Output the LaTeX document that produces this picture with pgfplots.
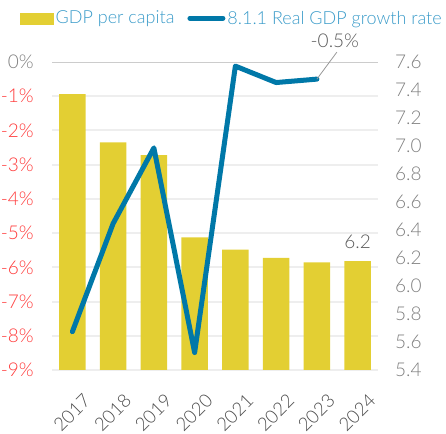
\documentclass[border=0pt]{standalone}
\usepackage{fontspec}
\setmainfont{Lato}[UprightFont={* Light}]
\usepackage{pgfplots}
\pgfplotsset{compat=1.18}

\definecolor{barc}{HTML}{E3CF33}
\definecolor{linec}{HTML}{0078A8}
\definecolor{legc}{HTML}{3A9BC9}
\definecolor{tickg}{HTML}{7F7F7F}
\definecolor{tickr}{HTML}{FF3B3B}
\definecolor{gridc}{HTML}{EEEEEE}

\newcommand\fz{\fontsize{19bp}{22bp}\selectfont}
\newcommand\fx{\fontsize{18.5bp}{20bp}\selectfont}
\newcommand\fl{\fontsize{18bp}{20bp}\selectfont}

\begin{document}
\begin{tikzpicture}
\pgfplotsset{
  base/.style={
    width=326bp, height=308bp, scale only axis,
    at={(0,0)}, anchor=south west,
    xmin=-0.5, xmax=7.5,
    major tick length=0pt,
    axis line style={draw=none},
  },
}

% grid, left axis, year labels
\begin{axis}[base,
    ymin=-9, ymax=0,
    xtick={0,...,7},
    xticklabels={2017,2018,2019,2020,2021,2022,2023,2024},
    xticklabel style={rotate=45, anchor=east, inner sep=0pt, yshift=-30bp, xshift=-9bp,
      font=\fx, text=black!70},
    ytick={-9,-8,-7,-6,-5,-4,-3,-2,-1},
    yticklabels={-9\%,-8\%,-7\%,-6\%,-5\%,-4\%,-3\%,-2\%,-1\%},
    yticklabel style={font=\fz, text=tickr, inner sep=0pt, xshift=-18bp},
    ymajorgrids, grid style={draw=gridc, line width=2bp},
    extra y ticks={0},
    extra y tick labels={0\%},
    extra y tick style={yticklabel style={text=tickg},
      grid style={draw=black!20, line width=1bp}},
  ]
\end{axis}

% GDP per capita bars, right axis
\begin{axis}[base,
    ymin=5.4, ymax=7.6,
    axis x line=none,
    axis y line*=right,
    ytick={5.4,5.6,5.8,6.0,6.2,6.4,6.6,6.8,7.0,7.2,7.4,7.6},
    yticklabels={5.4,5.6,5.8,6.0,6.2,6.4,6.6,6.8,7.0,7.2,7.4,7.6},
    yticklabel style={font=\fz, text=tickg, inner sep=0pt, xshift=17bp},
  ]
  \addplot[ybar, bar width=26.7bp, fill=barc, draw=none] coordinates {
    (0,7.37) (1,7.025) (2,6.934) (3,6.347)
    (4,6.26) (5,6.20) (6,6.168) (7,6.177)
  };
  \node[anchor=south, yshift=9bp, font=\fz, text=black!65] at (axis cs:7,6.177) {6.2};
  \node[rotate=90, font=\fontsize{14bp}{16bp}\selectfont, text=tickg]
    at ([xshift=60bp]rel axis cs:1,0.40) {USD'000s 2021 PPP};
\end{axis}

% real GDP growth line
\begin{axis}[base,
    ymin=-9, ymax=0,
    hide axis, clip=false,
    legend columns=2,
    legend style={at={(-0.098,1.173)}, anchor=north west, draw=none, fill=none,
      font=\fl, text=legc, inner sep=0pt,
      /tikz/every even column/.append style={column sep=11bp},
      nodes={inner sep=2bp}},
  ]
  \addlegendimage{legend image code/.code={\fill[barc] (0bp,-5.5bp) rectangle (33bp,5.5bp);}}
  \addlegendentry{GDP per capita}
  \addplot[linec, line width=5bp, line cap=round, line join=round,
    legend image code/.code={\draw[linec, line width=5bp, line cap=round] (2bp,0bp) -- (35bp,0bp);}]
    coordinates {
    (0,-7.88) (1,-4.72) (2,-2.51) (3,-8.49)
    (4,-0.12) (5,-0.60) (6,-0.50)
  };
  \addlegendentry{8.1.1 Real GDP growth rate}
  \draw[black!40, line width=0.8bp] (axis cs:6,-0.5) -- ++(20bp,27bp);
  \node[font=\fz, text=black!65] at ([xshift=18bp, yshift=38bp]axis cs:6,-0.5) {-0.5\%};
\end{axis}

\pgfresetboundingbox
\path[use as bounding box] (-52bp,-64bp) rectangle (394bp,370bp);
\end{tikzpicture}
\end{document}
